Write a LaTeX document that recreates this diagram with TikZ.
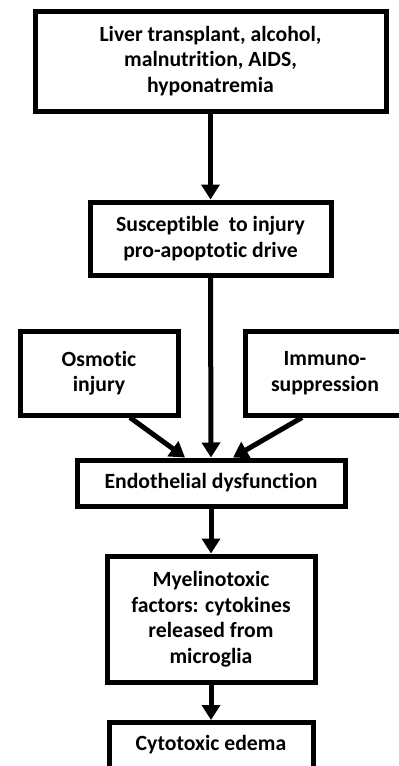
\documentclass[tikz,border=0pt]{standalone}
\usepackage{fontspec}
\setmainfont{Carlito}[Ligatures={NoCommon,NoRare,NoContextual}]
\usetikzlibrary{arrows.meta,calc}
\tikzset{
  box/.style={draw=black, line width=5pt, fill=white, align=center, inner sep=0pt,
    font=\bfseries\fontsize{21.7}{25.5}\selectfont},
  arr/.style={draw=black, line width=5pt, -{Triangle[width=18pt,length=15pt]}}
}
\begin{document}
\begin{tikzpicture}[x=1pt,y=-1pt]
\useasboundingbox (0,0) rectangle (399,766);
\clip (0,0) rectangle (399,766);
\node[box, minimum width=351pt, minimum height=100pt] (n1) at (210.5,61)
  {Liver transplant, alcohol,\\ malnutrition, AIDS,\\ hyponatremia};
\node[box, minimum width=241pt, minimum height=73pt] (n2) at (210.5,238.5)
  {Susceptible\ \ to injury\\ pro-apoptotic drive};
\node[box, minimum width=158pt, minimum height=84pt] (n3) at (99,373)
  {Osmotic\\ injury};
\node[box, minimum width=160pt, minimum height=84pt] (n4) at (325,373)
  {Immuno-\\ suppression};
\node[box, minimum width=268pt, minimum height=46pt] (n5) at (211,483)
  {Endothelial dysfunction};
\node[box, minimum width=208pt, minimum height=126pt] (n6) at (211,619)
  {Myelinotoxic\\ factors: cytokines\\ released from\\ microglia};
\node[box, minimum width=204pt, anchor=north, text height=15pt, text depth=40pt, inner ysep=13pt] (n7) at (211,720)
  {Cytotoxic edema};
\draw[arr] (n1.south) -- (n2.north);
\draw[arr] (n2.south) -- (n5.north);
\draw[arr] ($(n3.south)+(31,0)$) -- ($(n5.north)+(-26,0)$);
\draw[arr] ($(n4.south)+(-23,0)$) -- ($(n5.north)+(22,0)$);
\draw[arr] (n5.south) -- (n6.north);
\draw[arr] (n6.south) -- (n7.north);
\end{tikzpicture}
\end{document}
